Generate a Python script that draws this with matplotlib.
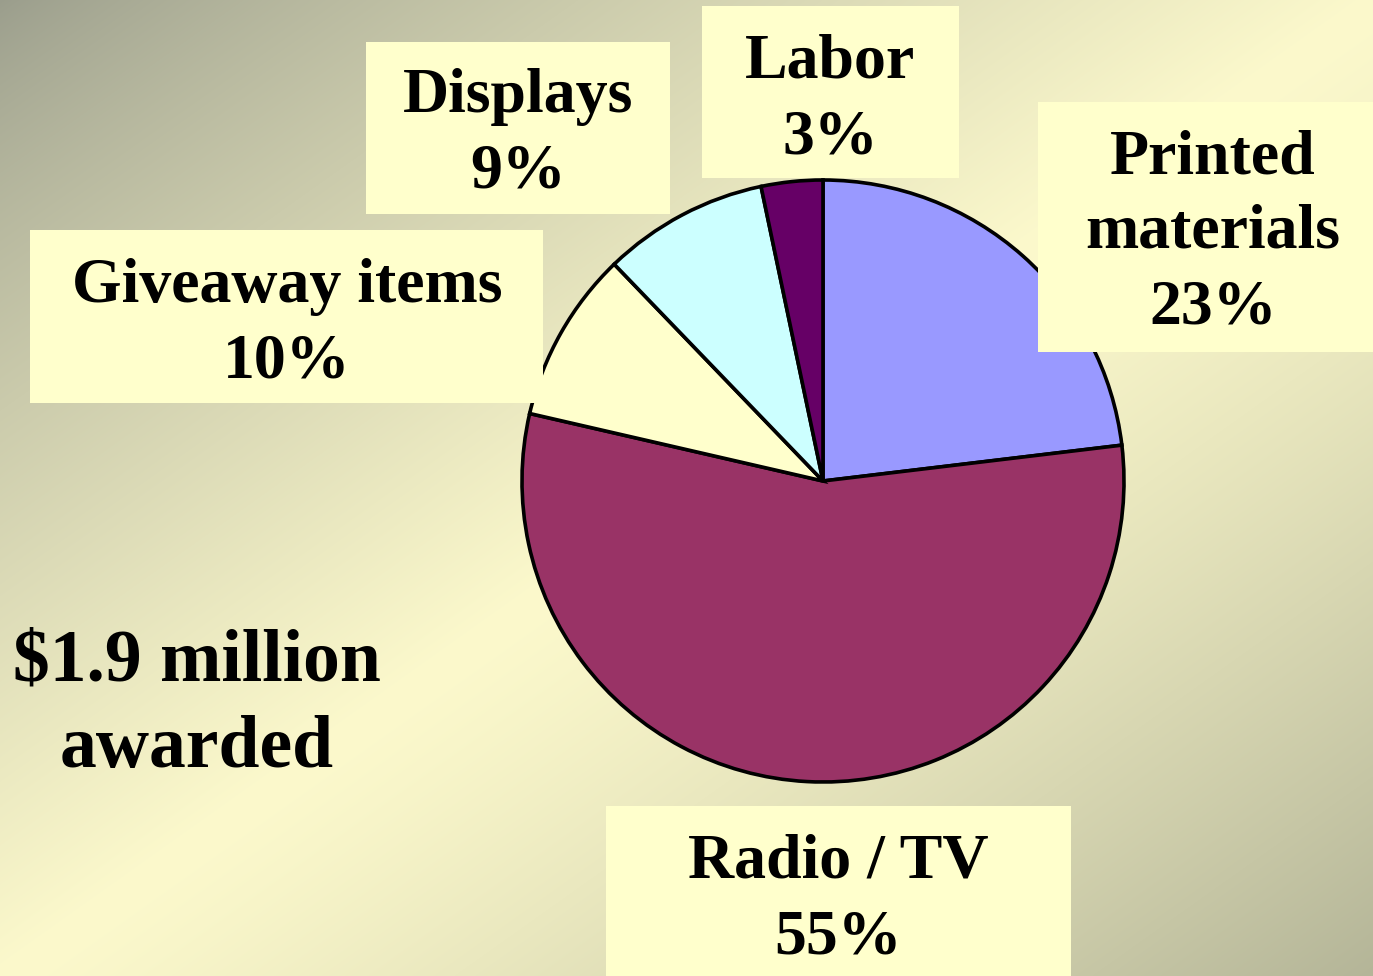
import numpy as np
import matplotlib
matplotlib.use("Agg")
import matplotlib.pyplot as plt
from matplotlib.patches import Rectangle

# ---- data ----
categories = ["Printed\nmaterials", "Radio / TV", "Giveaway items", "Displays", "Labor"]
slice_values = [23.1, 55.5, 9.2, 8.9, 3.3]      # slice sizes
pct_labels = ["23%", "55%", "10%", "9%", "3%"]   # printed percentage labels
slice_colors = ["#9999FF", "#993366", "#FFFFCC", "#CCFFFF", "#660066"]
note_text = "$1.9 million\nawarded"

W, H = 1373, 976
fig = plt.figure(figsize=(W / 100, H / 100), dpi=100)
ax = fig.add_axes([0, 0, 1, 1])

# ---- background gradient (diagonal, dark at TL/BR corners, light in middle) ----
yy, xx = np.mgrid[0:H, 0:W]
t = (xx / W + yy / H) / 2.0
c0 = np.array([154, 157, 140]) / 255.0
cm = np.array([252, 249, 204]) / 255.0
c1 = np.array([180, 181, 152]) / 255.0
a = (t / 0.5)[..., None]
b = ((t - 0.5) / 0.5)[..., None]
img = np.where((t <= 0.5)[..., None],
               c0 + (cm - c0) * np.clip(a, 0, 1) ** 0.8,
               cm + (c1 - cm) * np.clip(b, 0, 1) ** 1.25)
ax.imshow(img, extent=(0, W, 0, H), origin="upper", aspect="auto", zorder=0)

def Y(y):
    return H - y

# ---- pie ----
cx, cy, r = 823, 481, 301
ax.pie(slice_values, colors=slice_colors, startangle=90, counterclock=False,
       center=(cx, Y(cy)), radius=r,
       wedgeprops=dict(edgecolor="black", linewidth=2.6), frame=True)

ax.set_xlim(0, W)
ax.set_ylim(0, H)
ax.set_aspect("equal")
ax.axis("off")

font = dict(family="Liberation Serif", weight="bold", color="black")
box_color = "#FFFFCC"

# label boxes: (x0, y0, x1, y1) in pixels, text center x, baselines
layout = {
    "Printed\nmaterials": ((1038, 102, 1373, 352), 1213, [173, 248, 323]),
    "Radio / TV": ((606, 806, 1071, 990), 838, [878, 953]),
    "Giveaway items": ((30, 230, 543, 403), 287, [302, 377]),
    "Displays": ((366, 42, 670, 214), 518, [112, 188]),
    "Labor": ((702, 6, 959, 178), 830, [78, 154]),
}

for cat, pct in zip(categories, pct_labels):
    (x0, y0, x1, y1), tx, bases = layout[cat]
    ax.add_patch(Rectangle((x0, Y(y1)), x1 - x0, y1 - y0,
                           facecolor=box_color, edgecolor="none", zorder=5))
    lines = cat.split("\n") + [pct]
    for line, bl in zip(lines, bases):
        ax.text(tx, Y(bl), line, ha="center", va="baseline", fontsize=46,
                zorder=6, **font)

for line, bl in zip(note_text.split("\n"), [680, 767]):
    ax.text(197, Y(bl), line, ha="center", va="baseline", fontsize=53,
            zorder=6, **font)

fig.savefig("out.png", dpi=100)
